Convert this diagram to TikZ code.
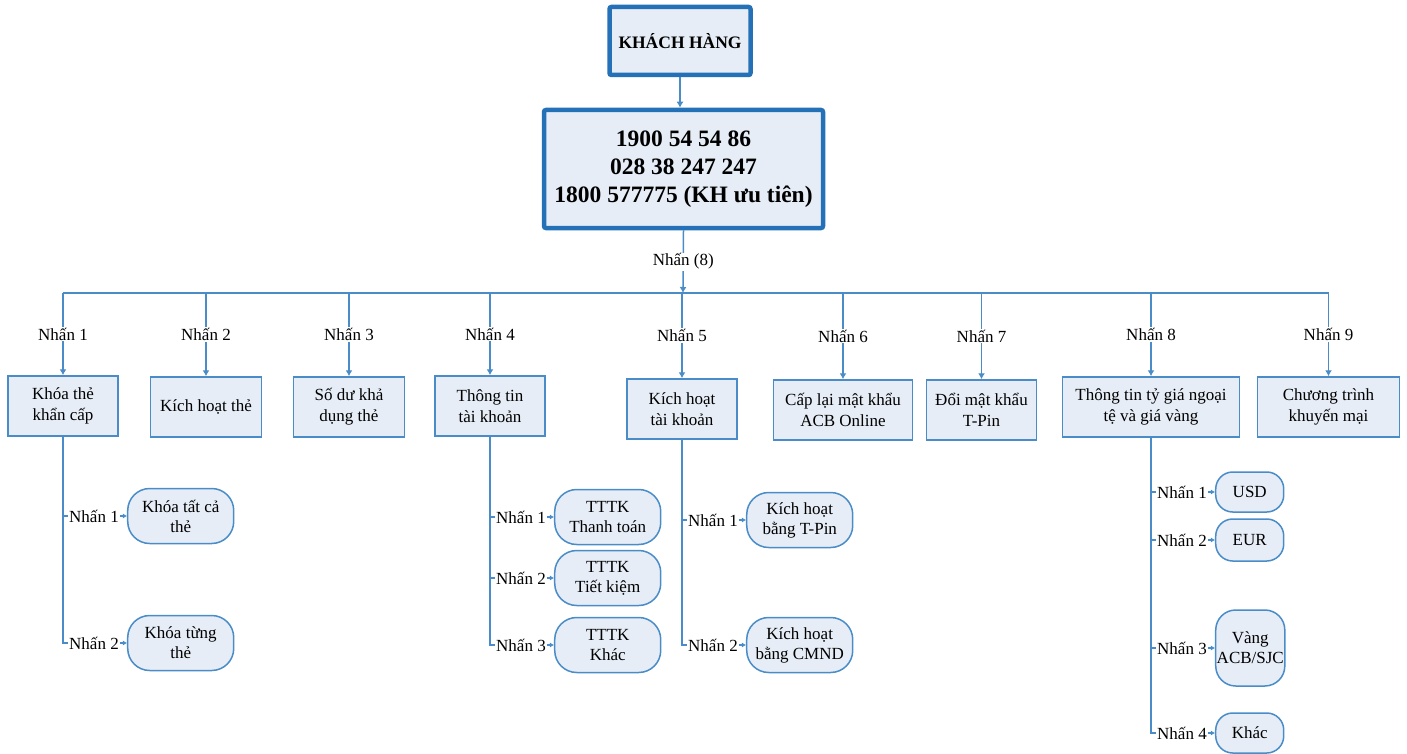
\documentclass[tikz,border=0pt]{standalone}
\usepackage{fontspec}
\setmainfont{Liberation Serif}
\usetikzlibrary{arrows.meta, positioning}

\definecolor{boxblue}{HTML}{2471B8}
\definecolor{lineblue}{HTML}{4A8CC7}
\definecolor{boxfill}{HTML}{E6EDF6}

\tikzset{
  topbox/.style   = {draw=boxblue, line width=4.5pt, fill=boxfill, rounded corners=2pt, align=center},
  menubox/.style  = {draw=lineblue, line width=1.5pt, fill=boxfill, minimum height=60pt, align=center,
                     inner sep=2pt, font=\fontsize{17}{21}\selectfont},
  optbox/.style   = {draw=lineblue, line width=1.5pt, fill=boxfill, rounded corners=22pt, minimum width=106pt,
                     minimum height=55pt, align=center, inner sep=1pt, font=\fontsize{17}{20}\selectfont},
  keylabel/.style = {fill=white, inner sep=1pt, font=\fontsize{17}{20}\selectfont},
  sublabel/.style = {anchor=west, inner sep=1pt, font=\fontsize{17}{20}\selectfont},
  conn/.style     = {draw=lineblue, line width=1.5pt},
  trunk/.style    = {draw=lineblue, line width=2pt},
  arrowtip/.style = {-{Latex[length=6pt, width=7pt]}},
  subtip/.style   = {-{Latex[length=4pt, width=5pt]}},
}

\begin{document}
\begin{tikzpicture}[x=1pt, y=-1pt]

\useasboundingbox (0,0) rectangle (1407,754);

% customer and hotline
\node [topbox, minimum width=141pt, minimum height=68pt, font=\bfseries\fontsize{17.5}{21}\selectfont] (kh) at (680,41) {KHÁCH HÀNG};
\node [topbox, minimum width=279pt, minimum height=118pt, font=\bfseries\fontsize{23.5}{28}\selectfont] (hotline) at (683.5,169)
      {1900 54 54 86\\028 38 247 247\\1800 577775 (KH ưu tiên)};

\draw [conn, arrowtip] (kh.south) -- (kh.south |- hotline.north);

% main menu
\node [menubox, minimum width=110pt] (m1) at (63,406)     {Khóa thẻ\\khẩn cấp};
\node [menubox, minimum width=111pt] (m2) at (206,407)    {Kích hoạt thẻ};
\node [menubox, minimum width=111pt] (m3) at (349,407)    {Số dư khả\\dụng thẻ};
\node [menubox, minimum width=110pt] (m4) at (490,406)    {Thông tin\\tài khoản};
\node [menubox, minimum width=110pt] (m5) at (682,409)    {Kích hoạt\\tài khoản};
\node [menubox, minimum width=139pt] (m6) at (843,410)    {Cấp lại mật khẩu\\ACB Online};
\node [menubox, minimum width=110pt] (m7) at (981.5,410)  {Đổi mật khẩu\\T-Pin};
\node [menubox, minimum width=177pt] (m8) at (1151,407)   {Thông tin tỷ giá ngoại\\tệ và giá vàng};
\node [menubox, minimum width=142pt] (m9) at (1328.5,407) {Chương trình\\khuyến mại};

\coordinate (bus) at (683,293);
\coordinate (b1)  at (m1.north |- bus);
\coordinate (b2)  at (m2.north |- bus);
\coordinate (b3)  at (m3.north |- bus);
\coordinate (b4)  at (m4.north |- bus);
\coordinate (b5)  at (m5.north |- bus);
\coordinate (b6)  at (m6.north |- bus);
\coordinate (b7)  at (m7.north |- bus);
\coordinate (b8)  at (m8.north |- bus);
\coordinate (b9)  at (m9.north |- bus);

\draw [conn] (b1) -- (b9);
\draw [conn, arrowtip] (hotline.south) -- node [keylabel] {Nhấn (8)} (bus);

\draw [conn, arrowtip] (b1) -- node [keylabel] {Nhấn 1} (m1.north);
\draw [conn, arrowtip] (b2) -- node [keylabel] {Nhấn 2} (m2.north);
\draw [conn, arrowtip] (b3) -- node [keylabel] {Nhấn 3} (m3.north);
\draw [conn, arrowtip] (b4) -- node [keylabel] {Nhấn 4} (m4.north);
\draw [conn, arrowtip] (b5) -- node [keylabel] {Nhấn 5} (m5.north);
\draw [conn, arrowtip] (b6) -- node [keylabel] {Nhấn 6} (m6.north);
\draw [conn, arrowtip] (b7) -- node [keylabel] {Nhấn 7} (m7.north);
\draw [conn, arrowtip] (b8) -- node [keylabel] {Nhấn 8} (m8.north);
\draw [conn, arrowtip] (b9) -- node [keylabel] {Nhấn 9} (m9.north);

% sub menu 1
\node [sublabel] (l11) at (68,516) {Nhấn 1};
\node [optbox, right=7pt of l11] (o11) {Khóa tất cả\\thẻ};
\node [sublabel] (l12) at (68,643) {Nhấn 2};
\node [optbox, right=7pt of l12] (o12) {Khóa từng\\thẻ};

\draw [trunk] (m1.south) |- (l12.west);
\draw [trunk] (m1.south |- l11.west) -- (l11.west);
\draw [conn, subtip] (l11) -- (o11);
\draw [conn, subtip] (l12) -- (o12);

% sub menu 4
\node [sublabel] (l41) at (495,517) {Nhấn 1};
\node [optbox, right=7pt of l41] (o41) {TTTK\\Thanh toán};
\node [sublabel] (l42) at (495,578) {Nhấn 2};
\node [optbox, right=7pt of l42] (o42) {TTTK\\Tiết kiệm};
\node [sublabel] (l43) at (495,645) {Nhấn 3};
\node [optbox, right=7pt of l43] (o43) {TTTK\\Khác};

\draw [trunk] (m4.south) |- (l43.west);
\draw [trunk] (m4.south |- l41.west) -- (l41.west);
\draw [trunk] (m4.south |- l42.west) -- (l42.west);
\draw [conn, subtip] (l41) -- (o41);
\draw [conn, subtip] (l42) -- (o42);
\draw [conn, subtip] (l43) -- (o43);

% sub menu 5
\node [sublabel] (l51) at (687,520) {Nhấn 1};
\node [optbox, right=7pt of l51] (o51) {Kích hoạt\\bằng T-Pin};
\node [sublabel] (l52) at (687,645) {Nhấn 2};
\node [optbox, right=7pt of l52] (o52) {Kích hoạt\\bằng CMND};

\draw [trunk] (m5.south) |- (l52.west);
\draw [trunk] (m5.south |- l51.west) -- (l51.west);
\draw [conn, subtip] (l51) -- (o51);
\draw [conn, subtip] (l52) -- (o52);

% sub menu 8
\node [sublabel] (l81) at (1156,492) {Nhấn 1};
\node [optbox, right=7pt of l81, minimum width=68pt, minimum height=40pt, rounded corners=17pt] (o81) {USD};
\node [sublabel] (l82) at (1156,540) {Nhấn 2};
\node [optbox, right=7pt of l82, minimum width=68pt, minimum height=42pt, rounded corners=17pt] (o82) {EUR};
\node [sublabel] (l83) at (1156,648) {Nhấn 3};
\node [optbox, right=7pt of l83, minimum width=68pt, minimum height=76pt, rounded corners=20pt] (o83) {Vàng\\ACB/SJC};
\node [sublabel] (l84) at (1156,733) {Nhấn 4};
\node [optbox, right=7pt of l84, minimum width=68pt, minimum height=40pt, rounded corners=17pt] (o84) {Khác};

\draw [trunk] (m8.south) |- (l84.west);
\draw [trunk] (m8.south |- l81.west) -- (l81.west);
\draw [trunk] (m8.south |- l82.west) -- (l82.west);
\draw [trunk] (m8.south |- l83.west) -- (l83.west);
\draw [conn, subtip] (l81) -- (o81);
\draw [conn, subtip] (l82) -- (o82);
\draw [conn, subtip] (l83) -- (o83);
\draw [conn, subtip] (l84) -- (o84);

\end{tikzpicture}
\end{document}
